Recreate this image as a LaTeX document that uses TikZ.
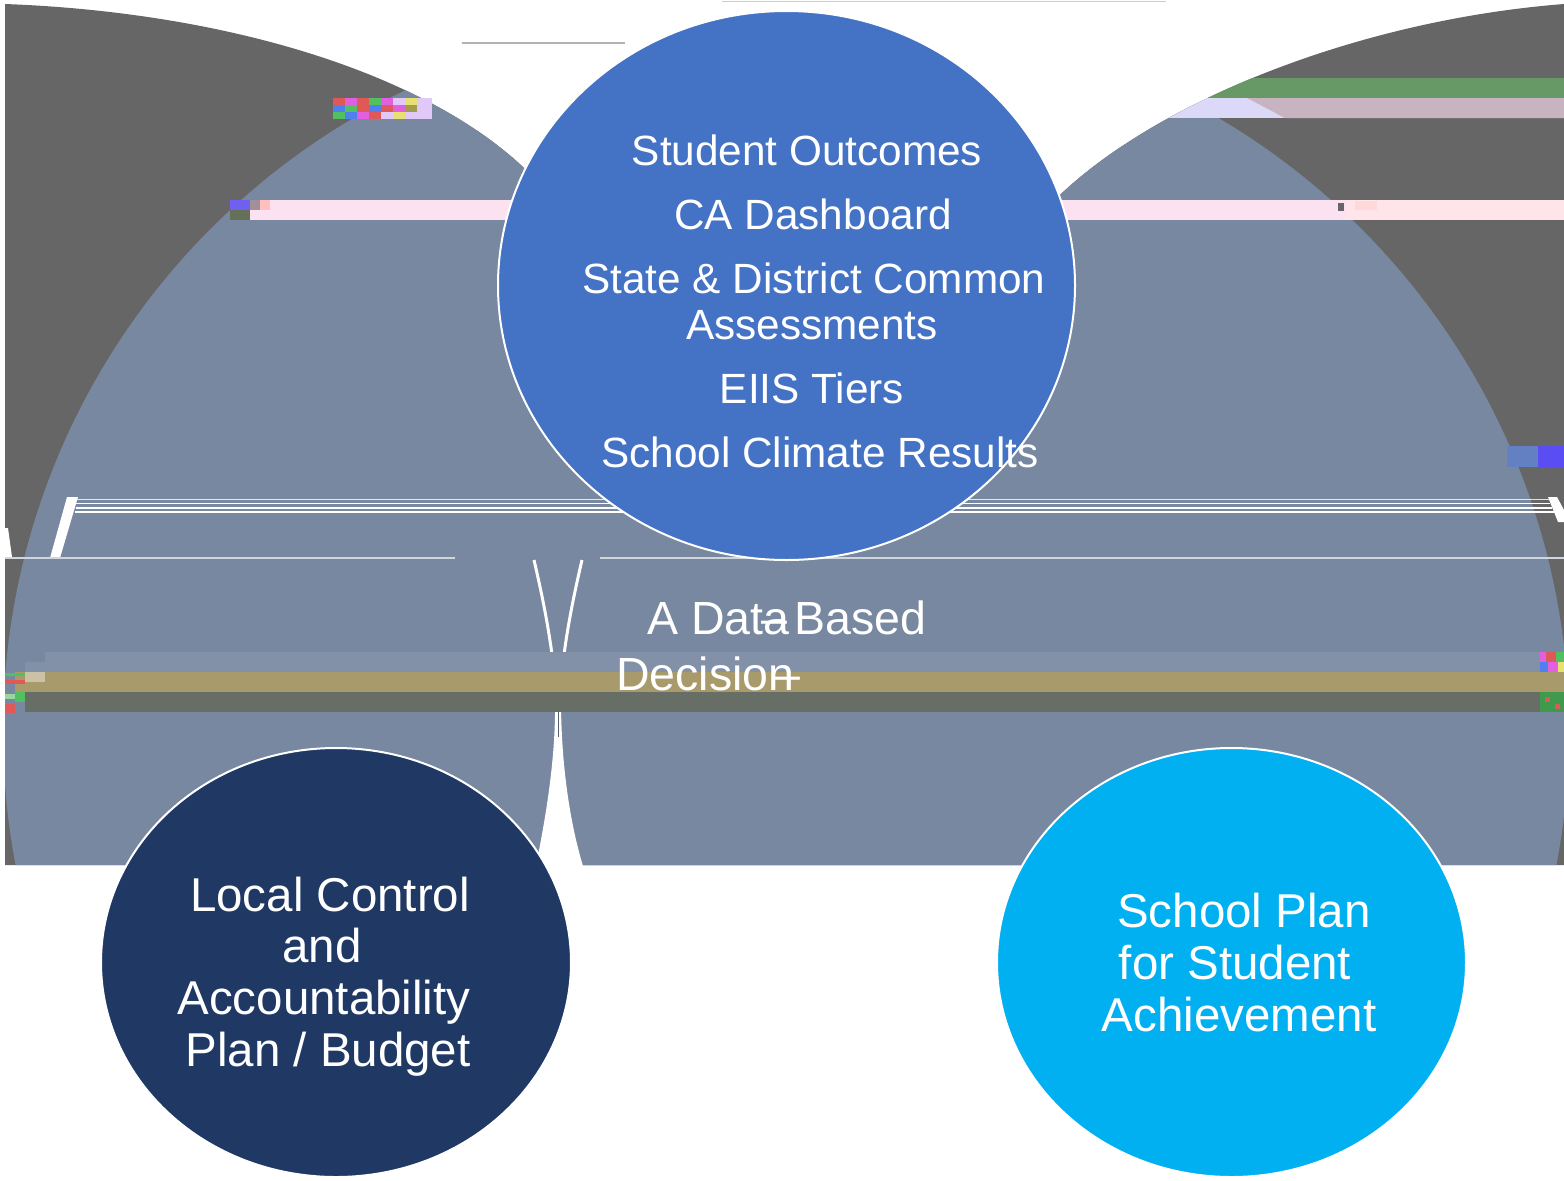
\documentclass[tikz,border=0pt]{standalone}
\usepackage{fontspec}
\setmainfont{Liberation Sans}
\usetikzlibrary{shapes.geometric}
\definecolor{bggray}{HTML}{666666}
\definecolor{slate}{HTML}{7888A0}
\definecolor{slatelt}{HTML}{8290A8}
\definecolor{topblue}{HTML}{4472C4}
\definecolor{navyb}{HTML}{203864}
\definecolor{cyanb}{HTML}{00B0F0}
\definecolor{pinkb}{HTML}{FCE2F0}
\definecolor{peachb}{HTML}{FFE4EA}
\definecolor{greenb}{HTML}{669966}
\definecolor{lavb}{HTML}{DCD8F8}
\definecolor{mauveb}{HTML}{C8B4C0}
\definecolor{khakib}{HTML}{A89A6A}
\definecolor{darkb}{HTML}{666E66}
\definecolor{gR}{HTML}{E05858}
\definecolor{gM}{HTML}{E060E0}
\definecolor{gG}{HTML}{50C060}
\definecolor{gB}{HTML}{5080F0}
\definecolor{gY}{HTML}{E8E070}
\definecolor{gL}{HTML}{E0C8F8}
\definecolor{gP}{HTML}{7060F0}
\definecolor{gO}{HTML}{667058}
\definecolor{lineg}{HTML}{D0D6DE}
\begin{document}
\begin{tikzpicture}[x=1pt,y=-1pt,
  bubble/.style={ellipse, draw=white, line width=2pt, inner sep=0pt},
  txt/.style={text=white, anchor=base, inner sep=0pt},
  toptxt/.style={txt, font=\fontsize{42.3}{42.3}\selectfont},
  bottxt/.style={txt, font=\fontsize{47.5}{47.5}\selectfont},
  midtxt/.style={text=white, anchor=base west, inner sep=0pt, font=\fontsize{46.5}{46.5}\selectfont}]
\useasboundingbox (0,0) rectangle (1564,1181);
\fill[white] (0,0) rectangle (1564,1181);
% dark gray backdrop
\fill[bggray] (5,865) -- (5,4) .. controls (220,12) and (420,70) .. (524,168) -- (790,420) -- (1060,195) .. controls (1160,100) and (1360,20) .. (1564,4) -- (1564,865) -- cycle;
\begin{scope}
  \clip (5,865) -- (5,4) .. controls (220,12) and (420,70) .. (524,168) -- (790,420) -- (1060,195) .. controls (1160,100) and (1360,20) .. (1564,4) -- (1564,865) -- cycle;
  \fill[slate] (714,731) circle[radius=711pt];
  \fill[slate] (858,731) circle[radius=711pt];
  \fill[greenb] (1100,78) rectangle (1564,98);
  \fill[lavb] (1100,98) rectangle (1564,118);
  \fill[mauveb] (1247,98) -- (1564,98) -- (1564,118) -- (1285,118) -- cycle;
\end{scope}
% gap between lobes
\draw[white, line width=3pt] (534,560) .. controls (548,620) and (554,660) .. (556.5,702);
\draw[white, line width=3pt] (582,560) .. controls (568,620) and (562,660) .. (559.5,702);
\fill[white] (555,700) .. controls (556,760) and (545,820) .. (536,866) -- (583,866) .. controls (569,820) and (561,760) .. (561,700) -- cycle;
\draw[slate!70!black, line width=0.8pt] (558,690) -- (558,737);
% white strokes and lines
\fill[white] (67,497) -- (78,497) -- (60,558) -- (50,558) -- cycle;
\fill[white] (1548,497) -- (1557,497) -- (1564,510) -- (1564,522) -- (1558,522) -- cycle;
\fill[white] (5,528) -- (8,528) -- (12,557) -- (5,557) -- cycle;
\draw[white, opacity=.8, line width=1pt] (75,499.5) -- (1550,499.5);
\draw[white, line width=1.5pt] (76,503.5) -- (1550,503.5);
\draw[white, line width=1.5pt] (76,508) -- (1552,508);
\draw[white, line width=1.5pt] (75,512) -- (1554,512);
\draw[lineg, line width=1.2pt] (5,558) -- (455,558);
\draw[lineg, line width=1.2pt] (600,558) -- (1564,558);
\draw[gray!60, line width=1.5pt] (462,43) -- (625,43);
\draw[gray!40, line width=1pt] (722,1) -- (1166,1);
% pink band
\fill[pinkb] (230,200) rectangle (1564,220);
\fill[peachb] (1345,200) rectangle (1564,220);
\fill[gP] (230,200) rectangle (250,210);
\fill[gO] (230,210) rectangle (250,220);
\fill[mauveb!80!black] (250,200) rectangle (260,210);
\fill[pink] (260,200) rectangle (270,210);
\fill[pink!60] (1355,201) rectangle (1377,210);
\fill[black!60] (1338,203) rectangle (1344,211);
% top-left glitch mosaic
\fill[gR] (333,98) rectangle (345,105);
\fill[gM] (345,98) rectangle (357,105);
\fill[gR] (357,98) rectangle (369,105);
\fill[gG] (369,98) rectangle (381,105);
\fill[gM] (381,98) rectangle (393,105);
\fill[gL] (393,98) rectangle (405,105);
\fill[gY] (405,98) rectangle (417,105);
\fill[gL] (417,98) rectangle (432,105);
\fill[gB] (333,105) rectangle (345,112);
\fill[gG] (345,105) rectangle (357,112);
\fill[gR] (357,105) rectangle (369,112);
\fill[gB] (369,105) rectangle (381,112);
\fill[gR] (381,105) rectangle (393,112);
\fill[gM] (393,105) rectangle (405,112);
\fill[gY!70!black] (405,105) rectangle (417,112);
\fill[gL] (417,105) rectangle (432,112);
\fill[gG] (333,112) rectangle (345,119);
\fill[gB] (345,112) rectangle (357,119);
\fill[gM] (357,112) rectangle (369,119);
\fill[gR] (369,112) rectangle (381,119);
\fill[gL] (381,112) rectangle (393,119);
\fill[gY] (393,112) rectangle (405,119);
\fill[gL] (405,112) rectangle (432,119);
% right purple glitch
\fill[gB!60!gray] (1507,446) rectangle (1538,467);
\fill[gP!80!blue] (1538,446) rectangle (1564,467);
% lower bands
\fill[slatelt] (45,652) rectangle (1540,672);
\fill[slatelt] (25,662) rectangle (45,672);
\fill[khakib] (15,672) rectangle (1564,692);
\fill[darkb] (25,692) rectangle (1540,712);
\fill[khakib!60!white] (25,672) rectangle (45,682);
\fill[gG] (5,673) rectangle (25,676);
\fill[gR] (5,680) rectangle (25,684);
\fill[gG!60!white] (5,694) rectangle (15,699);
\fill[gG] (15,692) rectangle (25,702);
\fill[gR] (5,704) rectangle (15,713);
\fill[gM] (1540,652) rectangle (1546,662);
\fill[gR] (1546,652) rectangle (1556,662);
\fill[gG] (1556,652) rectangle (1564,662);
\fill[gB] (1540,662) rectangle (1548,672);
\fill[gM] (1548,662) rectangle (1558,672);
\fill[gY] (1558,662) rectangle (1564,672);
\fill[gG!80!black] (1540,692) rectangle (1564,712);
\fill[gR] (1545,697) rectangle (1550,702);
\fill[gR] (1555,704) rectangle (1560,709);
% circles
\node[bubble, fill=topblue, minimum width=577pt, minimum height=549pt] (top) at (786.5,285.5) {};
\node[bubble, fill=navyb, minimum width=470pt, minimum height=429pt] (lcap) at (336,962.5) {};
\node[bubble, fill=cyanb, minimum width=469pt, minimum height=429pt] (spsa) at (1231.5,962.5) {};
% top circle text
\node[toptxt] (o1) at (807,165) {Student Outcomes};
\node[toptxt] (o2) at (813,229) {CA Dashboard};
\node[toptxt] (o3) at (814,293) {State \& District Common};
\node[toptxt] (o4) at (812,339) {Assessments};
\node[toptxt] (o5) at (812,403) {EIIS Tiers};
\node[toptxt] (o6) at (820,467) {School Climate Results};
% middle text
\node[midtxt] (m1) at (647,634) {A Data\kern-0.6em–\kern0.16em Based};
\node[midtxt] (m2) at (616,690) {Decision\kern-0.43em–};
% bottom-left text
\node[bottxt] (l1) at (330,911) {Local Control};
\node[bottxt] (l2) at (322,962) {and};
\node[bottxt] (l3) at (324,1014) {Accountability};
\node[bottxt] (l4) at (328,1066) {Plan / Budget};
% bottom-right text
\node[bottxt] (r1) at (1244,927) {School Plan};
\node[bottxt] (r2) at (1235,979) {for Student};
\node[bottxt] (r3) at (1239,1031) {Achievement};
\end{tikzpicture}
\end{document}
